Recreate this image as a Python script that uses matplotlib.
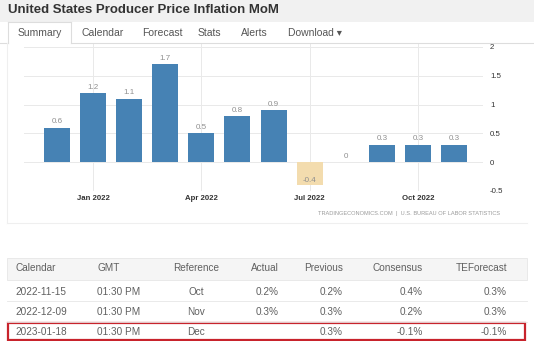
import matplotlib
matplotlib.use("Agg")
import matplotlib.pyplot as plt
from matplotlib.patches import Rectangle
from matplotlib.lines import Line2D

plt.rcParams["font.family"] = ["Liberation Sans", "DejaVu Sans"]

W, H = 534, 341

# monthly PPI change, %
months = ["Dec 2021", "Jan 2022", "Feb 2022", "Mar 2022", "Apr 2022", "May 2022",
          "Jun 2022", "Jul 2022", "Aug 2022", "Sep 2022", "Oct 2022", "Nov 2022"]
values = [0.6, 1.2, 1.1, 1.7, 0.5, 0.8, 0.9, -0.4, 0.0, 0.3, 0.3, 0.3]
tick_months = ["Jan 2022", "Apr 2022", "Jul 2022", "Oct 2022"]
y_ticks = [-0.5, 0, 0.5, 1, 1.5, 2]

tabs = ["Summary", "Calendar", "Forecast", "Stats", "Alerts", "Download \u25be"]

header = ["Calendar", "GMT", "Reference", "Actual", "Previous", "Consensus", "TEForecast"]
rows = [
    ["2022-11-15", "01:30 PM", "Oct", "0.2%", "0.2%", "0.4%", "0.3%"],
    ["2022-12-09", "01:30 PM", "Nov", "0.3%", "0.3%", "0.2%", "0.3%"],
    ["2023-01-18", "01:30 PM", "Dec", "", "0.3%", "-0.1%", "-0.1%"],
]


def fx(px):
    return px / W


def fy(py):
    return 1 - py / H


def hline(fig, x0, x1, y, color, lw=0.8):
    fig.add_artist(Line2D([fx(x0), fx(x1)], [fy(y), fy(y)], color=color, lw=lw,
                          transform=fig.transFigure))


def vline(fig, x, y0, y1, color, lw=0.8):
    fig.add_artist(Line2D([fx(x), fx(x)], [fy(y0), fy(y1)], color=color, lw=lw,
                          transform=fig.transFigure))


def box(fig, x0, y0, x1, y1, **kw):
    fig.add_artist(Rectangle((fx(x0), fy(y1)), fx(x1) - fx(x0), fy(y0) - fy(y1),
                             transform=fig.transFigure, **kw))


fig = plt.figure(figsize=(W / 100, H / 100), dpi=100)
fig.patch.set_facecolor("white")

# page header
box(fig, 0, 0, W, 22, facecolor="#f1f1f1", edgecolor="none")
fig.text(fx(8), fy(10), "United States Producer Price Inflation MoM", fontsize=9.5,
         fontweight="bold", color="#333333", va="center", ha="left")

# tab strip
hline(fig, 0, 8, 43, "#dddddd")
hline(fig, 71, W, 43, "#dddddd")
vline(fig, 8, 22, 43, "#dddddd")
vline(fig, 71, 22, 43, "#dddddd")
hline(fig, 8, 71, 22, "#dddddd")
tab_x = [18, 81, 142, 198, 241, 288]
for name, x in zip(tabs, tab_x):
    fig.text(fx(x), fy(33), name, fontsize=7.5, color="#555555", va="center", ha="left")

# chart panel outline
vline(fig, 7, 43, 223, "#efefef")
hline(fig, 7, 527, 223, "#efefef")

ax = fig.add_axes([fx(24), fy(191), fx(483) - fx(24), fy(44) - fy(191)])
pos = list(range(len(months)))
colors = ["#4682b4" if v >= 0 else "#f3dcae" for v in values]
ax.bar(pos, values, width=0.72, color=colors, zorder=2)
for x, v in zip(pos, values):
    off = 4.3 if v >= 0 else 3.4
    ax.annotate(f"{v:g}", (x, v), xytext=(0, off), textcoords="offset points",
                ha="center", va="center", fontsize=5.8, color="#8f8f8f")

ax.set_xlim(-0.91, 11.8)
ax.set_ylim(-0.5, 2.05)
ax.set_xticks([months.index(m) for m in tick_months])
ax.set_xticklabels(tick_months, fontsize=5.6, fontweight="bold", color="#333333")
ax.set_yticks(y_ticks)
ax.set_yticklabels([f"{t:g}" for t in y_ticks], fontsize=5.7, color="#333333")
ax.yaxis.tick_right()
ax.tick_params(length=0, axis="y", pad=5)
ax.tick_params(length=0, axis="x", pad=3)
ax.grid(True, color="#e9e9e9", lw=0.7, zorder=0)
for s in ax.spines.values():
    s.set_visible(False)

fig.text(fx(500), fy(213), "TRADINGECONOMICS.COM  |  U.S. BUREAU OF LABOR STATISTICS",
         fontsize=4.1, color="#9a9a9a", ha="right", va="center")

# calendar table
box(fig, 7, 258, 527, 280, facecolor="#f5f5f5", edgecolor="#e6e6e6", lw=0.6)
hline(fig, 7, 527, 301, "#e6e6e6", 0.6)
hline(fig, 7, 527, 322, "#e6e6e6", 0.6)

col_x = [15, 97, 196, 279, 343, 423, 507]
col_ha = ["left", "left", "center", "right", "right", "right", "right"]
row_y = [268, 292, 312, 332]
for text, x, ha in zip(header, col_x, col_ha):
    fig.text(fx(x), fy(row_y[0]), text, fontsize=7.2, color="#606060", ha=ha, va="center")
for row, y in zip(rows, row_y[1:]):
    for text, x, ha in zip(row, col_x, col_ha):
        fig.text(fx(x), fy(y), text, fontsize=7.2, color="#606060", ha=ha, va="center")

box(fig, 8, 323, 525, 340, facecolor="none", edgecolor="#c8232c", lw=1.6)

fig.savefig("out.png", dpi=100)
